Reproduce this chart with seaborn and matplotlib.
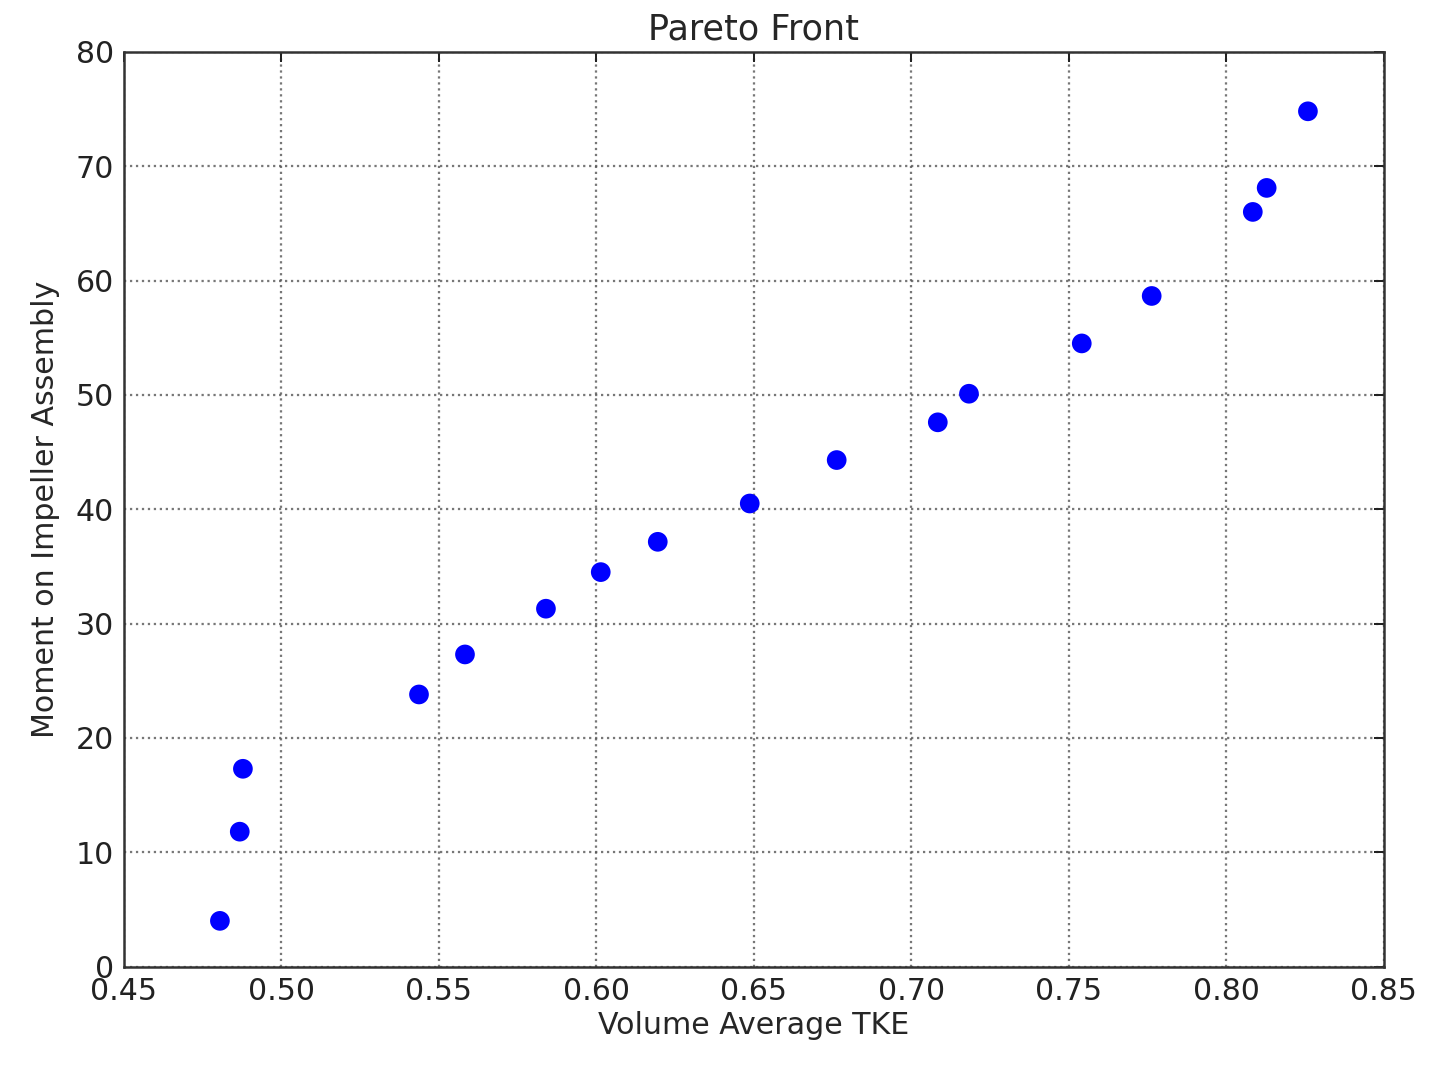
import pandas as pd
import seaborn as sns
import matplotlib
matplotlib.use("Agg")
import matplotlib.pyplot as plt

# values
tke = [0.4805, 0.4868, 0.4878, 0.5437, 0.5583, 0.5840, 0.6014, 0.6195, 0.6487,
       0.6763, 0.7084, 0.7183, 0.7541, 0.7763, 0.8084, 0.8128, 0.8259]
moment = [4.0, 11.8, 17.3, 23.8, 27.3, 31.3, 34.5, 37.15, 40.5,
          44.3, 47.6, 50.1, 54.5, 58.65, 66.0, 68.1, 74.8]

x_ticks = [0.45, 0.50, 0.55, 0.60, 0.65, 0.70, 0.75, 0.80, 0.85]
y_ticks = [0, 10, 20, 30, 40, 50, 60, 70, 80]

df = pd.DataFrame({"tke": tke, "moment": moment})

sns.set_style("white")
plt.rcParams["font.family"] = ["DejaVu Sans"]

fig = plt.figure(figsize=(8, 6), dpi=180)
ax = fig.add_axes([0.086, 0.105, 0.875, 0.847])

sns.scatterplot(data=df, x="tke", y="moment", ax=ax, color="#0000ff",
                s=62, edgecolor="none", zorder=3)

ax.set_xlim(0.45, 0.85)
ax.set_ylim(0, 80)
ax.set_xticks(x_ticks)
ax.set_xticklabels([f"{t:.2f}" for t in x_ticks])
ax.set_yticks(y_ticks)
ax.grid(True, color="#555555", linestyle=":", linewidth=0.9, alpha=0.8)
ax.tick_params(direction="in", length=4, width=0.8, labelsize=12,
               top=True, right=True, pad=4, colors="#222222")
for sp in ax.spines.values():
    sp.set_color("#333333")
    sp.set_linewidth(1.0)

ax.set_xlabel("Volume Average TKE", fontsize=12, labelpad=2)
ax.set_ylabel("Moment on Impeller Assembly", fontsize=12, labelpad=6)
ax.set_title("Pareto Front", fontsize=14, pad=5)

fig.savefig("out.png", dpi=180)
